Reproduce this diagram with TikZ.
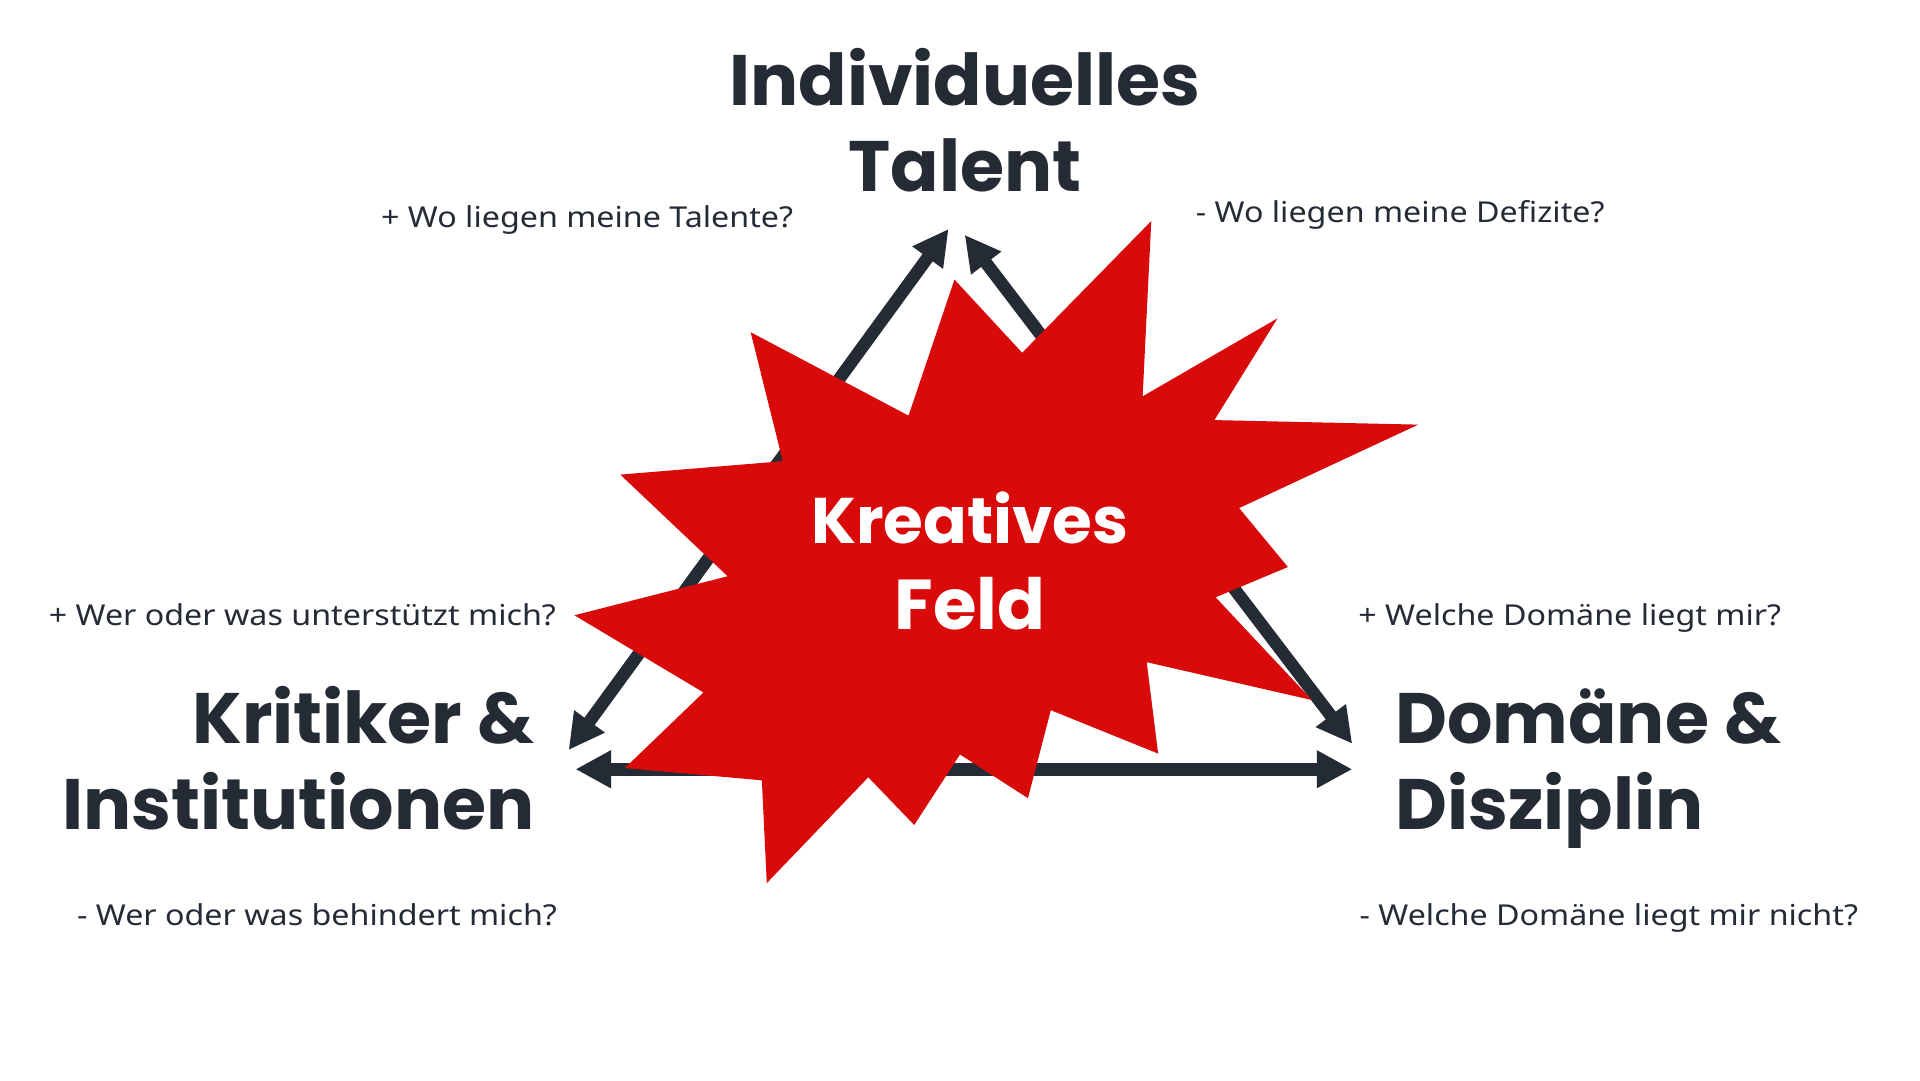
\documentclass[tikz,border=0pt]{standalone}
\usepackage{fontspec}
\usepackage{tikz}
\usetikzlibrary{arrows.meta}
\newfontfamily\headfont{Poppins}
\newfontfamily\askfont{Noto Sans}[FakeStretch=1.12]
\definecolor{InkSlate}{RGB}{36,43,52}
\definecolor{StarRed}{RGB}{216,10,10}

\begin{document}
\begin{tikzpicture}[x=0.01cm,y=-0.01cm,
    head/.style={font=\headfont\bfseries\fontsize{16.5}{20}\selectfont, text=InkSlate, inner sep=0pt},
    ask/.style={font=\askfont\fontsize{6.65}{8}\selectfont, text=InkSlate, inner sep=0pt, anchor=base west},
    link/.style={line width=2.9pt, InkSlate, arrows={Triangle[length=8.2pt,width=8.2pt]-Triangle[length=8.2pt,width=8.2pt]}}]
    \useasboundingbox[fill=white] (0,0) rectangle (1560,877.5);

%   arrow ends
    \coordinate (talentL) at (770.7,186);
    \coordinate (talentR) at (783.8,190.8);
    \coordinate (kritikerT) at (462,609.4);
    \coordinate (kritikerR) at (467.6,625);
    \coordinate (domaeneT) at (1098.7,604.3);
    \coordinate (domaeneL) at (1098.7,625);

    \draw[link] (talentL) -- (kritikerT);
    \draw[link] (talentR) -- (domaeneT);
    \draw[link] (kritikerR) -- (domaeneL);

%   star
    \fill[StarRed] (935.4,179.6) -- (928.4,322) -- (1038,258.6) -- (986.7,341.3)
        -- (1152.3,345) -- (1006.8,412.8) -- (1046.4,460.7) -- (987.7,485.3)
        -- (1066,568.8) -- (931.7,538) -- (941,612.3) -- (853.8,577)
        -- (835.2,648.5) -- (780,613) -- (742.8,670.3) -- (705.5,631.5)
        -- (623,717.5) -- (619,634) -- (507.7,624) -- (571.6,562.6)
        -- (466.7,499.9) -- (591.2,468.2) -- (504,385.6) -- (636,374.7)
        -- (609.9,269.9) -- (738.2,337.7) -- (775.5,227.1) -- (830.5,286.6) -- cycle;

    \node[anchor=base, inner sep=0pt, text=white, align=center,
        font=\headfont\bfseries\fontsize{16.3}{20}\selectfont] (feld) at (788,511.5)
        {{\fontsize{14.9}{20}\selectfont Kreatives}\\Feld};

%   corners
    \node[head, anchor=base, align=center] (talent) at (784,155.7) {Individuelles\\Talent};
    \node[head, anchor=base east, align=right] (kritiker) at (435,674) {Kritiker \&\\Institutionen};
    \node[head, anchor=base west, align=left] (domaene) at (1133,674) {Domäne \&\\Disziplin};

%   questions
    \node[ask] (talentplus) at (309,185) {+ Wo liegen meine Talente?};
    \node[ask] (talentminus) at (971,181) {- Wo liegen meine Defizite?};
    \node[ask] (kritikerplus) at (39,508) {+ Wer oder was unterstützt mich?};
    \node[ask] (kritikerminus) at (62,752) {- Wer oder was behindert mich?};
    \node[ask] (domaeneplus) at (1103,508) {+ Welche Domäne liegt mir?};
    \node[ask] (domaeneminus) at (1104,752) {- Welche Domäne liegt mir nicht?};
\end{tikzpicture}
\end{document}
